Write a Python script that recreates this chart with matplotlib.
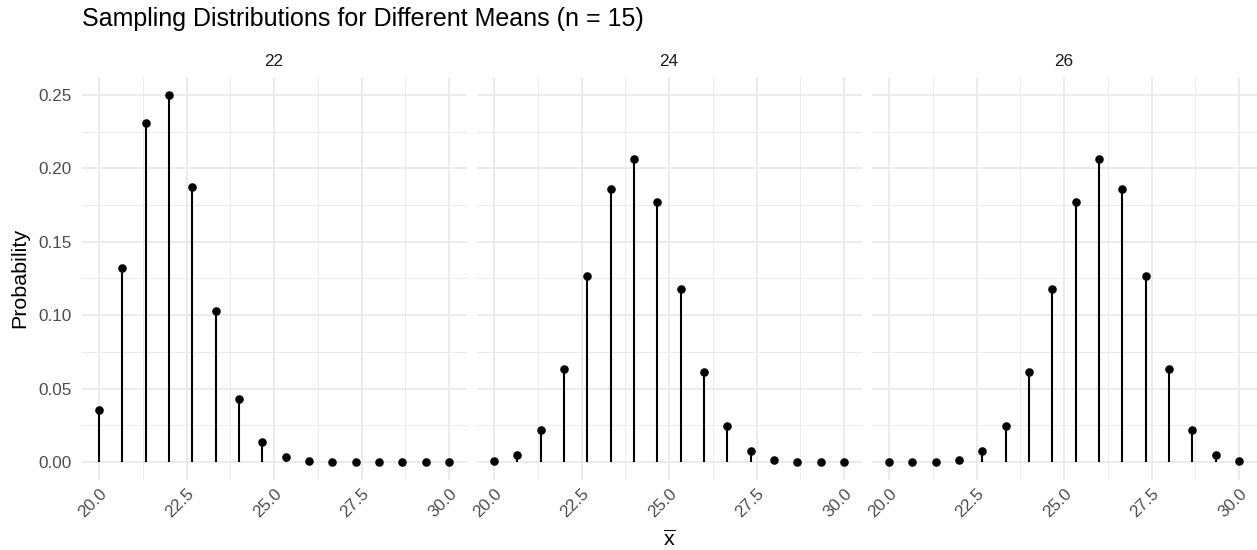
import matplotlib
matplotlib.use('Agg')
import matplotlib.pyplot as plt
from matplotlib.ticker import MultipleLocator

plt.rcParams['font.family'] = ['Liberation Sans', 'DejaVu Sans']
plt.rcParams['mathtext.fontset'] = 'custom'
plt.rcParams['mathtext.rm'] = 'Liberation Sans'
plt.rcParams['mathtext.it'] = 'Liberation Sans'

# sample mean values (n = 15)
xbar = [20.0, 20.67, 21.33, 22.0, 22.67, 23.33, 24.0, 24.67,
        25.33, 26.0, 26.67, 27.33, 28.0, 28.67, 29.33, 30.0]
means = ['22', '24', '26']
prob_22 = [0.0352, 0.1319, 0.2309, 0.2501, 0.1876, 0.1032, 0.0430, 0.0138,
           0.0035, 0.0007, 0.0001, 0.0, 0.0, 0.0, 0.0, 0.0]
prob_24 = [0.0005, 0.0047, 0.0219, 0.0634, 0.1268, 0.1859, 0.2066, 0.1771,
           0.1181, 0.0612, 0.0245, 0.0074, 0.0016, 0.0003, 0.0, 0.0]
prob_26 = [0.0, 0.0, 0.0003, 0.0016, 0.0074, 0.0245, 0.0612, 0.1181,
           0.1771, 0.2066, 0.1859, 0.1268, 0.0634, 0.0219, 0.0047, 0.0005]
probs = [prob_22, prob_24, prob_26]

fig = plt.figure(figsize=(12.57, 5.5), dpi=100)
W, H = 1257.0, 550.0
lefts = [81.5, 476.5, 871.5]
pw = 385.0
top, bot = 76.6, 480.4

grid_col = '#EBEBEB'
for i, (m, p) in enumerate(zip(means, probs)):
    ax = fig.add_axes([lefts[i] / W, 1 - bot / H, pw / W, (bot - top) / H])
    ax.vlines(xbar, 0, p, color='black', linewidth=1.5, zorder=3)
    ax.scatter(xbar, p, s=38, color='black', zorder=4, linewidths=0)
    ax.set_xlim(19.5, 30.5)
    ax.set_ylim(-0.0125, 0.2625)
    ax.xaxis.set_minor_locator(MultipleLocator(1.25))
    ax.yaxis.set_minor_locator(MultipleLocator(0.025))
    ax.grid(which='major', color=grid_col, linewidth=1.4, zorder=0)
    ax.grid(which='minor', color=grid_col, linewidth=0.7, zorder=0)
    ax.set_axisbelow(True)
    for s in ax.spines.values():
        s.set_visible(False)
    ax.tick_params(which='both', length=0, labelsize=12.3, labelcolor='#4D4D4D')
    ax.set_xticks([20, 22.5, 25, 27.5, 30])
    ax.set_xticklabels(['20.0', '22.5', '25.0', '27.5', '30.0'],
                       rotation=45, ha='right', va='top', rotation_mode='anchor')
    ax.tick_params(axis='x', pad=4)
    ax.tick_params(axis='y', pad=7)
    ax.set_yticks([0, 0.05, 0.10, 0.15, 0.20, 0.25])
    if i == 0:
        ax.set_yticklabels(['0.00', '0.05', '0.10', '0.15', '0.20', '0.25'])
    else:
        ax.set_yticklabels([])
    fig.text((lefts[i] + pw / 2) / W, 1 - 66 / H, m, ha='center', va='baseline',
             fontsize=12.3, color='#1A1A1A')

fig.text(0.5 * (lefts[0] + lefts[2] + pw) / W, 1 - 540 / H,
         r'$\overline{\mathrm{x}}$', ha='center', va='center', fontsize=15.4)
fig.text(19.5 / W, 1 - 278 / H, 'Probability', rotation=90, ha='center',
         va='center', fontsize=15.4)
fig.text(82 / W, 1 - 26 / H, 'Sampling Distributions for Different Means (n = 15)',
         ha='left', va='baseline', fontsize=18)

fig.savefig('out.png', dpi=100)
